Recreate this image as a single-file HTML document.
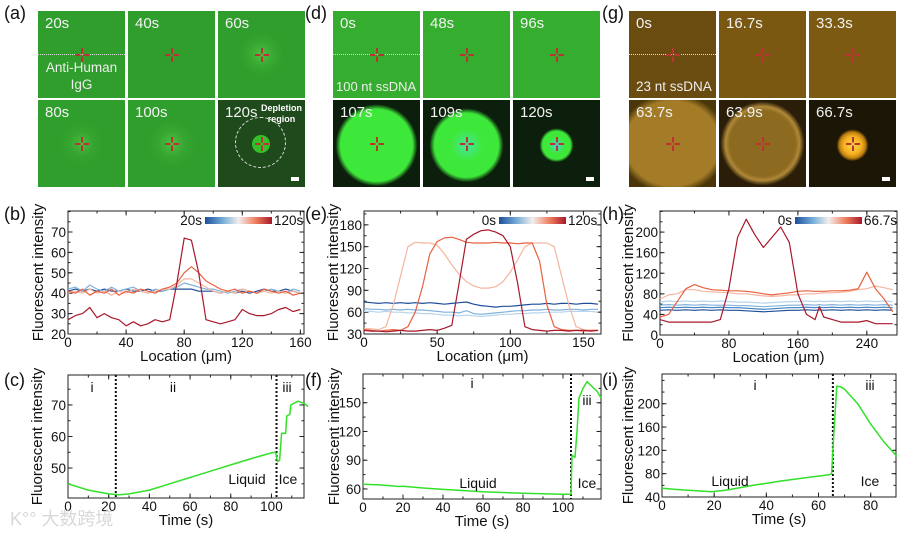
<!DOCTYPE html>
<html><head><meta charset="utf-8">
<style>
html,body{margin:0;padding:0;background:#fff;}
body{width:906px;height:533px;position:relative;overflow:hidden;font-family:"Liberation Sans","Noto Sans CJK SC",sans-serif;}
.tile{position:absolute;width:87px;height:87px;overflow:hidden;}
.lbl{position:absolute;left:7px;top:4px;color:#f2f2f2;font-size:15px;white-space:nowrap;}
.cross{position:absolute;left:50%;top:50%;width:14px;height:14px;margin:-7px 0 0 -7px;}
.cross:before{content:"";position:absolute;left:6px;top:0;width:2px;height:14px;background:linear-gradient(#b33 0 40%,transparent 40% 60%,#b33 60%);}
.cross:after{content:"";position:absolute;top:6px;left:0;height:2px;width:14px;background:linear-gradient(90deg,#b33 0 40%,transparent 40% 60%,#b33 60%);}
.dash{position:absolute;left:0;right:0;top:43px;border-top:1.5px dotted #ddd;}
.pl{position:absolute;font-size:18px;color:#111;}
.sb{position:absolute;right:6px;bottom:6px;width:8px;height:4px;background:#fff;}
svg text{font-family:"Liberation Sans",sans-serif;}
</style></head><body>

<div class="pl" style="left:4px;top:3px">(a)</div>
<div class="pl" style="left:305px;top:3px">(d)</div>
<div class="pl" style="left:602px;top:3px">(g)</div>

<!-- (a) -->
<div class="tile" style="left:38px;top:11px;background:#2f9e2c"><div class="dash"></div><div class="cross"></div><div class="lbl">20s</div><div style="position:absolute;left:0;right:0;top:48px;text-align:center;color:#eee;font-size:13.5px;line-height:17px">Anti-Human<br>IgG</div></div>
<div class="tile" style="left:128px;top:11px;background:#2f9e2c"><div class="cross"></div><div class="lbl">40s</div></div>
<div class="tile" style="left:218px;top:11px;background:radial-gradient(circle at 50% 50%,#4cc043 0,#37a832 12px,#2f9e2c 22px)"><div class="cross"></div><div class="lbl">60s</div></div>
<div class="tile" style="left:38px;top:100px;background:radial-gradient(circle at 50% 50%,#48bb3f 0,#35a530 12px,#2f9e2c 22px)"><div class="cross"></div><div class="lbl">80s</div></div>
<div class="tile" style="left:128px;top:100px;background:radial-gradient(circle at 50% 50%,#4cc043 0,#36a631 13px,#2f9e2c 24px)"><div class="cross"></div><div class="lbl">100s</div></div>
<div class="tile" style="left:218px;top:100px;background:#1f4a1c">
<div style="position:absolute;left:17px;top:17px;width:49px;height:49px;border:1.5px dashed #ddd;border-radius:50%"></div>
<div style="position:absolute;left:34px;top:35px;width:18px;height:18px;border-radius:50%;background:#33c02a"></div>
<div class="cross"></div><div class="lbl">120s</div>
<div style="position:absolute;right:3px;top:3px;color:#fff;font-size:9px;font-weight:bold;text-align:center;line-height:11px">Depletion<br>region</div><div class="sb"></div></div>

<!-- (d) -->
<div class="tile" style="left:333px;top:11px;background:#35ad2e"><div class="dash"></div><div class="cross"></div><div class="lbl">0s</div><div style="position:absolute;left:3px;bottom:4px;color:#eee;font-size:13px;white-space:nowrap">100 nt ssDNA</div></div>
<div class="tile" style="left:423px;top:11px;background:#35ad2e"><div class="cross"></div><div class="lbl">48s</div></div>
<div class="tile" style="left:513px;top:11px;background:#35ad2e"><div class="cross"></div><div class="lbl">96s</div></div>
<div class="tile" style="left:333px;top:100px;background:radial-gradient(circle at 50% 52%,#3ee83a 0,#3ee83a 36px,#0c1f0c 41px)"><div class="cross"></div><div class="lbl">107s</div></div>
<div class="tile" style="left:423px;top:100px;background:radial-gradient(circle at 50% 52%,#44e6a0 0,#3ee83a 16px,#3ee83a 32px,#0c1f0c 37px)"><div class="cross"></div><div class="lbl">109s</div></div>
<div class="tile" style="left:513px;top:100px;background:radial-gradient(circle at 50% 52%,#40d8f0 0,#3ee83a 8px,#3ee83a 14px,#0c1f0c 17px)"><div class="cross"></div><div class="lbl">120s</div><div class="sb"></div></div>

<!-- (g) -->
<div class="tile" style="left:629px;top:11px;background:#6a4c10"><div class="dash"></div><div class="cross"></div><div class="lbl">0s</div><div style="position:absolute;left:7px;bottom:4px;color:#eee;font-size:13.5px;white-space:nowrap">23 nt ssDNA</div></div>
<div class="tile" style="left:719px;top:11px;background:#7a5812"><div class="cross"></div><div class="lbl">16.7s</div></div>
<div class="tile" style="left:809px;top:11px;background:#7d5a12"><div class="cross"></div><div class="lbl">33.3s</div></div>
<div class="tile" style="left:629px;top:100px;background:radial-gradient(ellipse 55px 50px at 50% 50%,#a47c28 0,#a47c28 85%,#4a3608 100%)"><div class="cross"></div><div class="lbl">63.7s</div></div>
<div class="tile" style="left:719px;top:100px;background:radial-gradient(ellipse 42px 42px at 50% 50%,#8c6a20 0,#8c6a20 78%,#b08838 88%,#2a1e08 100%)"><div class="cross"></div><div class="lbl">63.9s</div></div>
<div class="tile" style="left:809px;top:100px;background:radial-gradient(circle at 50% 52%,#ffd84a 0,#f5b020 9px,#c08010 13px,#1c1606 16px)"><div class="cross"></div><div class="lbl">66.7s</div><div class="sb"></div></div>

<svg id="ch" width="906" height="533" style="position:absolute;left:0;top:0"></svg>

<script>
// ---- data ----
const bX = [0,5,10,15,20,25,30,35,40,45,50,55,60,65,70,75,80,85,90,95,100,105,110,115,120,125,130,135,140,145,150,155,160];
const b_darkblue = [41,42,41,42,41,42,41,41,42,41,41,42,41,41,42,42,42,42,41,41,41,40,41,40,41,40,41,42,41,41,42,41,40];
const b_lightblue = [42,43,41,44,42,41,43,41,42,43,41,40,42,41,42,43,45,44,43,42,42,41,40,41,42,41,40,41,42,41,40,42,41];
const b_pink = [40,41,40,42,40,41,39,41,40,42,41,40,41,42,42,44,47,47,45,43,41,40,41,40,42,41,40,41,40,41,40,41,40];
const b_salmon = [41,40,42,39,41,40,42,39,41,40,42,41,40,42,43,45,50,53,50,46,44,42,41,42,40,41,40,42,41,40,41,39,40];
const b_darkred = [27,29,30,33,28,30,28,27,24,26,24,25,27,26,27,45,67,66,50,27,26,25,26,27,32,30,29,29,30,32,33,31,32];

const eX = [0,5,10,15,20,25,30,35,40,45,50,55,60,65,70,75,80,85,90,95,100,105,110,115,120,125,130,135,140,145,150,155,160];
const e_darkblue = [74,73,72,73,72,73,72,73,72,73,72,71,72,73,74,71,69,68,67,68,68,69,70,71,71,72,71,72,72,71,72,72,71];
const e_midblue = [65,64,64,63,64,63,64,63,63,62,61,60,60,59,62,58,57,58,59,60,61,62,62,63,63,64,63,63,64,64,63,64,64];
const e_lightblue = [61,61,60,61,60,60,59,59,58,58,57,56,56,55,56,55,54,55,56,57,57,58,58,59,59,60,60,60,61,61,61,61,60];
const e_pink = [38,37,36,40,70,110,150,156,155,155,152,140,125,112,102,96,93,93,95,102,115,132,150,155,155,155,150,110,70,40,36,35,35];
const e_salmon = [36,35,34,35,36,35,40,60,95,140,157,162,163,160,156,155,155,155,156,155,155,154,155,155,130,70,40,36,35,35,34,35,35];
const e_darkred = [35,34,34,33,34,35,34,34,35,36,35,38,42,100,160,167,172,173,170,165,150,100,40,36,35,34,35,35,34,35,35,34,35];

const hX = [0,10,20,30,40,50,60,70,80,90,100,110,120,130,140,150,160,170,180,185,190,200,210,220,230,240,250,260,270];
const h_darkblue = [48,49,48,49,48,49,48,49,48,48,47,46,45,46,47,48,48,49,48,49,48,49,48,49,48,49,48,49,48];
const h_midblue = [53,54,53,54,53,54,53,54,53,53,52,51,50,51,52,53,53,54,53,54,53,54,53,54,53,54,53,54,53];
const h_blue = [58,59,58,59,58,59,58,58,58,57,57,56,55,56,57,58,58,59,58,59,58,59,58,59,58,59,58,59,58];
const h_lightblue = [64,66,65,66,65,66,65,66,65,64,64,63,62,63,64,65,65,66,65,66,65,66,65,66,65,66,65,66,65];
const h_pink = [70,78,80,88,88,85,84,83,82,80,80,78,76,75,76,78,78,80,80,81,82,82,83,85,88,90,95,92,88];
const h_salmon = [35,40,65,90,98,92,88,87,86,86,85,83,80,78,80,82,85,86,85,85,85,86,86,87,90,122,90,70,45];
const h_darkred = [30,25,25,25,25,25,25,30,90,190,225,195,170,190,210,180,80,40,30,55,35,30,25,25,25,28,22,22,22];

const cT = [0,10,20,25,30,40,50,60,70,80,90,100,102,103,104,105,107,107.5,109,109.5,113,116,118];
const cI = [45,43,41.8,41.5,41.8,43,45,47,49,51,53,54.8,55,52,52.5,61,61,66.5,67,70,71.2,70.5,69.5];
const fT = [0,10,18,20,30,40,60,80,100,104,104.5,106,107,108,110,112,114,117,119];
const fI = [65,64,62.5,62.8,61,59.5,57,55.5,54.5,54.5,95,93,120,155,165,172,168,162,155];
const iT = [0,5,10,19,25,35,45,55,64,65,66,67,68.5,70,75,80,85,90];
const iI = [55,53,51.5,49,52,60,67,73,78,80,160,230,229,225,200,165,135,110];

// ---- drawing ----
const NS="http://www.w3.org/2000/svg";
const svg=document.getElementById('ch');
function el(tag,attrs,parent){const e=document.createElementNS(NS,tag);for(const k in attrs)e.setAttribute(k,attrs[k]);(parent||svg).appendChild(e);return e;}
function txt(s,x,y,size,anchor,parent,rot){const t=el('text',{x:x,y:y,'font-size':size,'text-anchor':anchor||'middle',fill:'#111'},parent);if(rot)t.setAttribute('transform','rotate(-90 '+x+' '+y+')');t.textContent=s;return t;}

function axes(name,box,xd,yd,xt,xmin,yt,ymin,xtitle,ytitleX){
  const g=el('g',{});
  
  
  const sx=v=>box.x0+(v-xd[0])/(xd[1]-xd[0])*(box.x1-box.x0);
  const sy=v=>box.y1-(v-yd[0])/(yd[1]-yd[0])*(box.y1-box.y0);
  const r=el('rect',{x:box.x0,y:box.y0,width:box.x1-box.x0,height:box.y1-box.y0,fill:'none',stroke:'#222','stroke-width':1},g);
  
  for(const v of xmin){const x=sx(v);el('line',{x1:x,x2:x,y1:box.y1,y2:box.y1-2.5,stroke:'#222'},g);el('line',{x1:x,x2:x,y1:box.y0,y2:box.y0+2.5,stroke:'#222'},g);}
  for(const v of ymin){const y=sy(v);el('line',{x1:box.x0,x2:box.x0+2.5,y1:y,y2:y,stroke:'#222'},g);el('line',{x1:box.x1,x2:box.x1-2.5,y1:y,y2:y,stroke:'#222'},g);}
  for(const v of xt){const x=sx(v);el('line',{x1:x,x2:x,y1:box.y1,y2:box.y1-4.5,stroke:'#222'},g);el('line',{x1:x,x2:x,y1:box.y0,y2:box.y0+4.5,stroke:'#222'},g);const t=txt(String(v),x,box.y1+13,13.5,'middle',g);}
  for(const v of yt){const y=sy(v);el('line',{x1:box.x0,x2:box.x0+4.5,y1:y,y2:y,stroke:'#222'},g);el('line',{x1:box.x1,x2:box.x1-4.5,y1:y,y2:y,stroke:'#222'},g);const t=txt(String(v),box.x0-2,y+5,13.5,'end',g);}
  const xtl=txt(xtitle,(box.x0+box.x1)/2,box.y1+27,15,'middle',g);
  
  const ytl=txt('Fluorescent intensity',ytitleX,(box.y0+box.y1)/2,15,'middle',g,true);
  
  return {g,sx,sy,box};
}
function line(ax,xs,ys,color,name,w){
  let d='';xs.forEach((x,i)=>{d+=(i?'L':'M')+ax.sx(x).toFixed(1)+' '+ax.sy(ys[i]).toFixed(1);});
  const p=el('path',{d:d,fill:'none',stroke:color,'stroke-width':w||1.2,'stroke-linejoin':'round'},ax.g);
  
  
}
function vline(ax,x){el('line',{x1:ax.sx(x),x2:ax.sx(x),y1:ax.box.y0,y2:ax.box.y1,stroke:'#111','stroke-width':2,'stroke-dasharray':'2,2'},ax.g);}
function cbar(id,x0,x1,y,l,r){
  const defs=el('defs',{});
  const lg=el('linearGradient',{id:id},defs);
  [['0','#1f4e99'],['0.25','#6fa8d6'],['0.5','#f3efef'],['0.75','#f08060'],['1','#a8182a']].forEach(s=>el('stop',{offset:s[0],'stop-color':s[1]},lg));
  const r2=el('rect',{x:x0,y:y,width:x1-x0,height:7,fill:'url(#'+id+')'});
  
  txt(l,x0-3,y+8,13.5,'end');txt(r,x1+2,y+8,13.5,'start');
}
function lab(s,x,y){const t=txt(s,x,y,18,'start');}
const C={db:'#1f4e99',mb:'#3e80c0',b:'#7fb2dc',lb:'#b8d5ec',pk:'#f5b5a0',sa:'#e8603f',dr:'#a8182a',gr:'#33e02a'};
const rng=(a,b,s)=>{const o=[];for(let v=a;v<=b+1e-9;v+=s)o.push(+v.toFixed(3));return o;};

// (b)
lab('(b)',4,220);
let A=axes('chart-b',{x0:68,x1:304,y0:211,y1:334},[0,162.5],[20,80.3],[0,40,80,120,160],rng(0,160,20),[20,30,40,50,60,70],rng(20,80,5),'Location (μm)',43);
line(A,bX,b_darkblue,C.db,'b-series-20s');line(A,bX,b_lightblue,C.b,'b-series-40s');line(A,bX,b_pink,C.pk,'b-series-60s');line(A,bX,b_salmon,C.sa,'b-series-100s');line(A,bX,b_darkred,C.dr,'b-series-120s');
cbar('g1',205,272,217,'20s','120s');

// (e)
lab('(e)',305,220);
A=axes('chart-e',{x0:364,x1:601,y0:211,y1:334},[0,162],[30,199],[0,50,100,150],rng(0,150,25),[30,60,90,120,150,180],rng(30,195,15),'Location (μm)',338);
line(A,eX,e_darkblue,C.db,'e-series-0s');line(A,eX,e_midblue,C.b,'e-series-48s');line(A,eX,e_lightblue,C.lb,'e-series-96s');line(A,eX,e_pink,C.pk,'e-series-107s');line(A,eX,e_salmon,C.sa,'e-series-109s');line(A,eX,e_darkred,C.dr,'e-series-120s');
cbar('g2',499,566,217,'0s','120s');

// (h)
lab('(h)',602,220);
A=axes('chart-h',{x0:660,x1:897,y0:211,y1:335},[0,275],[0,241],[0,80,160,240],rng(0,270,40),[0,40,80,120,160,200],rng(0,240,20),'Location (μm)',633);
line(A,hX,h_darkblue,C.db,'h-series-0s');line(A,hX,h_midblue,C.mb,'h-series-16s');line(A,hX,h_blue,C.b,'h-series-33s');line(A,hX,h_lightblue,C.lb,'h-series-63-7s');line(A,hX,h_pink,C.pk,'h-series-63-9s');line(A,hX,h_salmon,C.sa,'h-series-66s');line(A,hX,h_darkred,C.dr,'h-series-66-7s');
cbar('g3',795,862,217,'0s','66.7s');

// (c)
lab('(c)',4,386);
A=axes('chart-c',{x0:68,x1:304,y0:375,y1:498},[0,116],[40.5,79.5],[0,20,40,60,80,100],rng(0,110,10),[50,60,70],rng(45,75,5),'Time (s)',42);
vline(A,23.5);vline(A,102.5);
line(A,cT,cI,C.gr,'c-intensity-line',1.5);
txt('i',92,392,14);txt('ii',173,392,14);txt('iii',287,392,14);txt('Liquid',247,484,14);txt('Ice',288,484,14);

// (f)
lab('(f)',305,386);
A=axes('chart-f',{x0:363,x1:601,y0:374,y1:499},[0,119],[49.5,180],[0,20,40,60,80,100],rng(0,110,10),[60,90,120,150],rng(60,180,15),'Time (s)',339);
vline(A,104);
line(A,fT,fI,C.gr,'f-intensity-line',1.5);
txt('i',472,388,14);txt('iii',587,405,14);txt('Liquid',478,488,14);txt('Ice',587,488,14);

// (i)
lab('(i)',602,386);
A=axes('chart-i',{x0:662,x1:896,y0:374,y1:497},[0,89.7],[40,251],[0,20,40,60,80],rng(0,80,10),[40,80,120,160,200],rng(40,240,20),'Time (s)',633);
vline(A,65.5);
line(A,iT,iI,C.gr,'i-intensity-line',1.5);
txt('i',755,390,14);txt('iii',870,390,14);txt('Liquid',730,486,14);txt('Ice',870,486,14);

const wm=txt('K°° 大数跨境',10,525,18,'start');
wm.setAttribute('fill','#d8d8d8');


</script>
</body></html>
